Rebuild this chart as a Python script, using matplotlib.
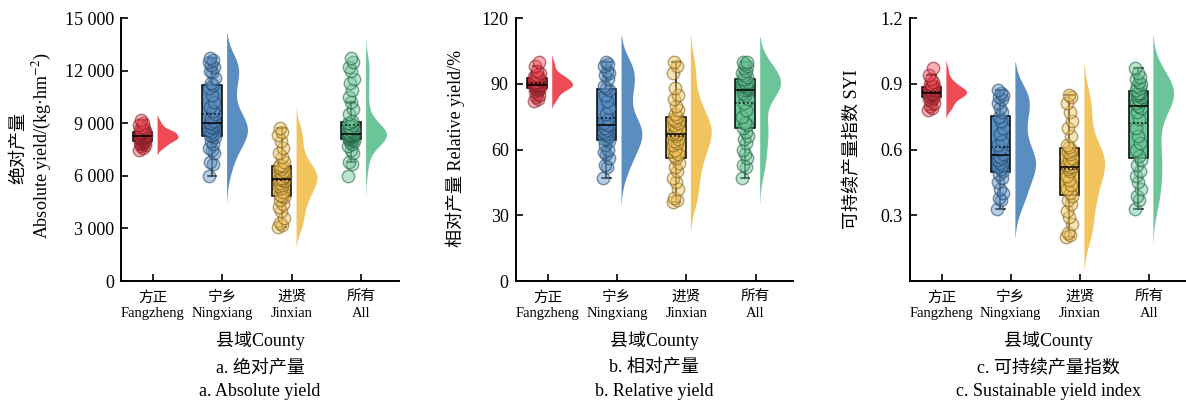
import numpy as np
import matplotlib
matplotlib.use("Agg")
import matplotlib.pyplot as plt
from matplotlib.colors import to_rgba

plt.rcParams['font.family'] = ['Liberation Serif', 'Noto Sans CJK SC']
plt.rcParams['mathtext.fontset'] = 'stix'

# ---- data ----
counties_cn = ['方正', '宁乡', '进贤', '所有']
counties_en = ['Fangzheng', 'Ningxiang', 'Jinxian', 'All']
colors = ['#EE4B55', '#5B8EC0', '#F2C45E', '#6CC598']
edge_colors = ['#7A1820', '#1F4468', '#7A5E18', '#1E5E3E']

# absolute yield, kg/hm2
abs_fangzheng = [7500, 7600, 7700, 7750, 7800, 7850, 7900, 7950, 8000, 8000, 8050, 8100,
                 8100, 8150, 8150, 8200, 8200, 8200, 8250, 8250, 8300, 8350, 8400, 8400,
                 8450, 8450, 8500, 8500, 8500, 8550, 8600, 8650, 8700, 8800, 8900, 9000, 9200]
abs_ningxiang = [6000, 6700, 6800, 7300, 7500, 7600, 7800, 8000, 8200, 8250, 8300, 8400,
                 8500, 8600, 8700, 8800, 8900, 9000, 9000, 9100, 9300, 9500, 9700, 9900,
                 10200, 10600, 11000, 11200, 11300, 11600, 11900, 12000, 12200, 12300,
                 12500, 12600, 12700]
abs_jinxian = [3100, 3200, 3300, 3600, 4000, 4200, 4400, 4600, 4800, 4850, 4900, 5100,
               5300, 5400, 5500, 5600, 5700, 5750, 5800, 5850, 5900, 6000, 6100, 6200,
               6300, 6400, 6500, 6550, 6600, 6800, 7100, 7300, 7600, 8000, 8300, 8500, 8700]
abs_all = [6000, 6700, 6800, 7300, 7500, 7700, 7800, 7900, 8000, 8050, 8100, 8100, 8150,
           8200, 8200, 8250, 8250, 8300, 8300, 8350, 8350, 8400, 8400, 8400, 8450, 8500,
           8500, 8550, 8600, 8650, 8700, 8800, 8900, 9000, 9000, 9100, 9500, 9800, 10200,
           10500, 10900, 11300, 11500, 12000, 12200, 12500, 12700]

# relative yield, %
rel_fangzheng = [82, 83, 84, 85, 86, 86.5, 87, 87.5, 88, 88, 88.5, 89, 89, 89.5, 89.5,
                 89.5, 89.5, 90, 90.5, 91, 91, 91.5, 92, 92, 92.5, 93, 93, 93.5, 94, 95,
                 96, 98, 100]
rel_ningxiang = [47, 52, 53, 56, 58, 59, 60, 62, 64, 65, 65, 66, 67, 68, 69, 70, 71, 71,
                 72, 74, 76, 79, 82, 85, 87, 88, 89, 92, 94, 95, 96, 98, 99, 100]
rel_jinxian = [36, 37, 38, 42, 45, 47, 50, 52, 54, 56, 57, 58, 60, 62, 63, 64, 65, 66, 67,
               67, 68, 69, 70, 71, 72, 73, 74, 75, 76, 78, 80, 83, 85, 88, 95, 98, 100]
rel_all = [47, 52, 53, 56, 58, 60, 63, 65, 66, 68, 70, 71, 72, 75, 78, 81, 83, 85, 86, 87,
           87, 88, 88, 89, 89, 90, 90, 90, 91, 91, 92, 92, 93, 94, 95, 96, 97, 98, 99,
           100, 100]

# sustainable yield index
syi_fangzheng = [0.78, 0.79, 0.80, 0.81, 0.82, 0.83, 0.835, 0.84, 0.845, 0.85, 0.85, 0.855,
                 0.86, 0.86, 0.86, 0.865, 0.87, 0.87, 0.875, 0.88, 0.885, 0.89, 0.895,
                 0.90, 0.91, 0.92, 0.94, 0.97]
syi_ningxiang = [0.33, 0.37, 0.38, 0.40, 0.42, 0.45, 0.47, 0.49, 0.50, 0.51, 0.52, 0.53,
                 0.54, 0.55, 0.56, 0.57, 0.58, 0.60, 0.62, 0.64, 0.67, 0.70, 0.73, 0.75,
                 0.77, 0.79, 0.81, 0.83, 0.84, 0.85, 0.86, 0.87]
syi_jinxian = [0.20, 0.21, 0.22, 0.26, 0.29, 0.32, 0.35, 0.37, 0.39, 0.40, 0.42, 0.44,
               0.46, 0.48, 0.50, 0.51, 0.52, 0.52, 0.53, 0.54, 0.55, 0.56, 0.58, 0.59,
               0.60, 0.61, 0.62, 0.66, 0.70, 0.73, 0.77, 0.81, 0.84, 0.85]
syi_all = [0.33, 0.37, 0.39, 0.42, 0.45, 0.48, 0.50, 0.53, 0.55, 0.57, 0.60, 0.63, 0.66,
           0.70, 0.74, 0.77, 0.79, 0.80, 0.81, 0.82, 0.83, 0.84, 0.85, 0.85, 0.86, 0.86,
           0.87, 0.88, 0.89, 0.90, 0.91, 0.92, 0.93, 0.95, 0.97]

abs_ticks = [0, 3000, 6000, 9000, 12000, 15000]
abs_ticklabels = ['0', '3 000', '6 000', '9 000', '12 000', '15 000']
rel_ticks = [0, 30, 60, 90, 120]
syi_ticks = [0.3, 0.6, 0.9, 1.2]


def kde(v, cut=2, adjust=0.8):
    v = np.asarray(v, float)
    bw = v.std(ddof=1) * len(v) ** (-1 / 5) * adjust
    grid = np.linspace(v.min() - cut * bw, v.max() + cut * bw, 300)
    dens = np.exp(-0.5 * ((grid[:, None] - v[None, :]) / bw) ** 2).sum(1)
    return grid, dens / dens.max()


def raincloud(ax, groups):
    for i, vals in enumerate(groups):
        vals = np.asarray(vals, float)
        bx = i - 0.15
        # half violin
        g, d = kde(vals)
        ax.fill_betweenx(g, i + 0.06, i + 0.06 + 0.3 * d, color=colors[i], lw=0, zorder=1)
        # box
        bp = ax.boxplot(vals, positions=[bx], widths=0.28, patch_artist=True,
                        showfliers=False, showmeans=True, meanline=True,
                        boxprops=dict(facecolor=colors[i], edgecolor='black', lw=1.1),
                        medianprops=dict(color='black', lw=1.1),
                        meanprops=dict(color='black', ls=':', lw=1.1),
                        whiskerprops=dict(color='black', lw=1.1),
                        capprops=dict(color='black', lw=1.1), capwidths=0.12)
        for a in bp['boxes']:
            a.set_zorder(2)
        for k in ['whiskers', 'caps']:
            for a in bp[k]:
                a.set_zorder(2.5)
        for k in ['medians', 'means']:
            for a in bp[k]:
                a.set_zorder(4)
        # jittered points
        n = len(vals)
        offs = ((np.arange(n) * 0.618034) % 1 - 0.5) * 0.09
        ax.scatter(bx + offs, vals, s=80, facecolor=to_rgba(colors[i], 0.45),
                   edgecolor=to_rgba(edge_colors[i], 0.55), lw=1.0, zorder=3)


def style(ax):
    for s in ['top', 'right']:
        ax.spines[s].set_visible(False)
    for s in ['left', 'bottom']:
        ax.spines[s].set_linewidth(1.4)
    ax.tick_params(direction='in', length=5, width=1.2, pad=5)
    ax.tick_params(axis='y', labelsize=13)
    ax.tick_params(axis='x', pad=7)
    ax.set_xlim(-0.46, 3.54)
    ax.set_xticks(range(4))
    ax.set_xticklabels([c + '\n' + e for c, e in zip(counties_cn, counties_en)],
                       fontsize=10.5, linespacing=1.3)
    ax.text(0.5, -0.228, '县域County', transform=ax.transAxes, ha='center', va='center',
            fontsize=13)


fig = plt.figure(figsize=(11.86, 4.03), dpi=100)
ax1 = fig.add_axes([0.102, 0.3027, 0.2344, 0.6526])
ax2 = fig.add_axes([0.4348, 0.3027, 0.2338, 0.6526])
ax3 = fig.add_axes([0.7673, 0.3027, 0.2327, 0.6526])

raincloud(ax1, [abs_fangzheng, abs_ningxiang, abs_jinxian, abs_all])
raincloud(ax2, [rel_fangzheng, rel_ningxiang, rel_jinxian, rel_all])
raincloud(ax3, [syi_fangzheng, syi_ningxiang, syi_jinxian, syi_all])

for ax in (ax1, ax2, ax3):
    style(ax)

ax1.set_ylim(0, 15000)
ax1.set_yticks(abs_ticks)
ax1.set_yticklabels(abs_ticklabels)
ax1.text(-0.370, 0.507, '绝对产量', transform=ax1.transAxes, rotation=90,
         ha='center', va='center', fontsize=13)
ax1.text(-0.284, 0.513, 'Absolute yield/(kg·hm$^{-2}$)', transform=ax1.transAxes,
         rotation=90, ha='center', va='center', fontsize=13)

ax2.set_ylim(0, 120)
ax2.set_yticks(rel_ticks)
ax2.text(-0.219, 0.504, '相对产量 Relative yield/%', transform=ax2.transAxes,
         rotation=90, ha='center', va='center', fontsize=13)

ax3.set_ylim(0, 1.2)
ax3.set_yticks(syi_ticks)
ax3.set_yticklabels(['%.1f' % t for t in syi_ticks])
ax3.text(-0.210, 0.5, '可持续产量指数 SYI', transform=ax3.transAxes,
         rotation=90, ha='center', va='center', fontsize=13)

captions = [('a. 绝对产量', 'a. Absolute yield'),
            ('b. 相对产量', 'b. Relative yield'),
            ('c. 可持续产量指数', 'c. Sustainable yield index')]
for ax, (c1, c2) in zip((ax1, ax2, ax3), captions):
    ax.text(0.5, -0.331, c1, transform=ax.transAxes, ha='center', va='center', fontsize=13)
    ax.text(0.5, -0.422, c2, transform=ax.transAxes, ha='center', va='center', fontsize=13)

fig.savefig('out.png', dpi=100)
